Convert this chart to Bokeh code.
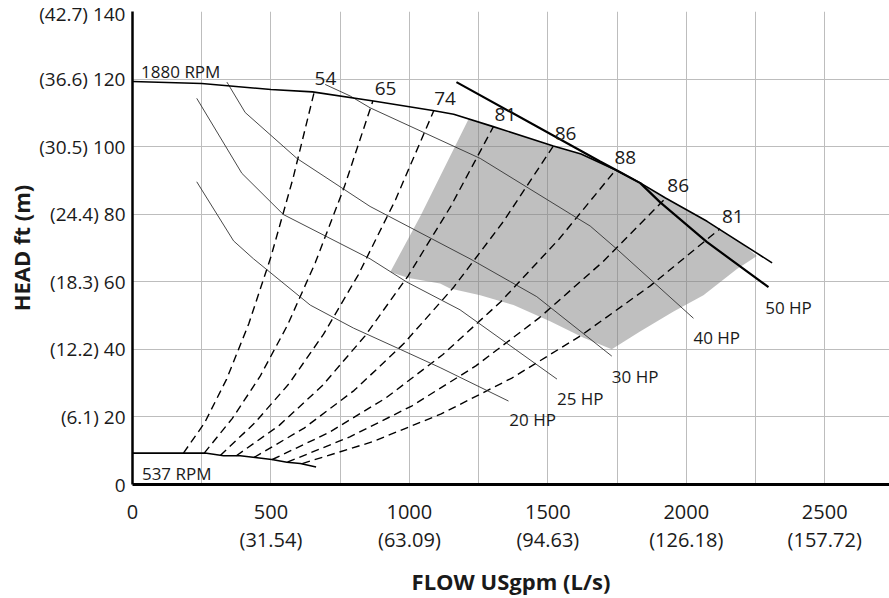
from bokeh.plotting import figure
from bokeh.models import FixedTicker, LinearAxis
from bokeh.embed import file_html
from bokeh.resources import INLINE
from bokeh.core.properties import value

# ---------------- data ----------------
x_ticks = [0, 500, 1000, 1500, 2000, 2500]
x_tick_labels = ["0", "500", "1000", "1500", "2000", "2500"]
x_tick_labels_ls = ["", "(31.54)", "(63.09)", "(94.63)", "(126.18)", "(157.72)"]
y_ticks = [0, 20, 40, 60, 80, 100, 120, 140]
y_tick_labels = ["0", "(6.1) 20", "(12.2) 40", "(18.3) 60", "(24.4) 80",
                 "(30.5) 100", "(36.6) 120", "(42.7) 140"]
x_grid = [250, 500, 750, 1000, 1250, 1500, 1750, 2000, 2250, 2500]
y_grid = [20, 40, 60, 80, 100, 120]

# pump curve at max and min speed
flow_1880 = [0, 250, 500, 650, 870, 1090, 1160, 1300, 1520, 1620, 1745, 1835, 1925, 2075, 2310]
head_1880 = [119.3, 118.7, 116.9, 116.2, 113.5, 110.6, 109.6, 106.0, 100.2, 97.8, 93.1, 89.2, 84.8, 77.9, 65.6]
flow_537 = [0, 262, 329, 389, 443, 503, 558, 606, 663]
head_537 = [9.3, 9.3, 8.5, 8.5, 8.0, 7.4, 6.6, 6.2, 5.2]

# horsepower lines
hp20_flow = [232, 365, 437, 642, 798, 967, 1111, 1358]
hp20_head = [89.6, 72.1, 66.8, 53.1, 46.3, 40.0, 34.6, 24.7]
hp25_flow = [232, 395, 545, 858, 991, 1183, 1533]
hp25_head = [114.3, 92.1, 79.9, 66.8, 59.9, 51.7, 31.2]
hp30_flow = [341, 407, 594, 858, 1219, 1460, 1731]
hp30_head = [119.1, 110.1, 96.5, 82.3, 66.8, 55.6, 38.0]
hp40_flow = [696, 786, 858, 1256, 1605, 1653, 1749, 2026]
hp40_head = [118.4, 115.0, 111.5, 96.5, 78.9, 76.5, 69.7, 49.2]
hp50_flow = [1170, 1689, 1760, 1834, 1906, 2074, 2297]
hp50_head = [119.1, 95.6, 92.5, 89.2, 83.5, 71.8, 58.4]

hp_labels = ["20 HP", "25 HP", "30 HP", "40 HP", "50 HP"]
hp_label_x = [1361, 1533, 1731, 2026, 2285]
hp_label_y = [19.3, 25.4, 32.0, 43.4, 52.4]

# efficiency (affinity) lines
e54_flow = [184, 260, 340, 420, 500, 580, 657]
e54_head = [9.3, 18.2, 31.2, 47.6, 67.4, 90.7, 116.4]
e65_flow = [259, 360, 460, 560, 660, 765, 868]
e65_head = [9.3, 19.5, 31.9, 47.2, 65.6, 88.1, 113.5]
e74_flow = [317, 440, 565, 690, 815, 950, 1088]
e74_head = [8.6, 18.1, 29.8, 44.5, 62.0, 84.3, 110.6]
e81_flow = [375, 530, 685, 840, 995, 1150, 1304]
e81_head = [8.5, 17.5, 29.2, 44.0, 61.7, 82.4, 106.0]
e86_flow = [439, 620, 800, 980, 1160, 1340, 1520]
e86_head = [8.0, 16.7, 27.8, 41.7, 58.4, 77.9, 100.2]
e88_flow = [505, 710, 915, 1120, 1330, 1540, 1745]
e88_head = [7.4, 15.4, 25.6, 38.4, 54.1, 72.6, 93.1]
e86b_flow = [559, 785, 1010, 1240, 1470, 1700, 1924]
e86b_head = [6.6, 14.1, 23.3, 35.1, 49.4, 66.0, 84.6]
e81b_flow = [613, 865, 1115, 1370, 1620, 1870, 2122]
e81b_head = [6.2, 12.6, 20.9, 31.5, 44.1, 58.8, 75.7]

eff_labels = ["54", "65", "74", "81", "86", "88", "86", "81"]
eff_label_x = [697, 914, 1129, 1347, 1564, 1780, 1971, 2168]
eff_label_y = [120.1, 117.2, 114.3, 109.4, 103.8, 96.8, 88.4, 79.4]

# preferred operating region (shaded)
region_flow = [1213, 1300, 1520, 1620, 1745, 1835, 1925, 2075, 2200, 2255,
               2183, 2062, 1954, 1833, 1731, 1629, 1508, 1376, 1256, 1147,
               1111, 997, 931, 1040]
region_head = [108.0, 106.0, 100.2, 97.8, 93.1, 89.2, 84.8, 77.9, 71.4, 67.6,
               63.8, 56.0, 51.2, 45.3, 40.0, 43.4, 48.3, 53.1, 56.0, 58.0,
               59.5, 61.1, 62.9, 79.5]

# ---------------- figure ----------------
FONT = "Open Sans"
TXT = "#1a1a1a"

p = figure(width=889, height=598, x_range=(0, 2734), y_range=(0, 140),
           output_backend="svg", toolbar_location=None,
           min_border_left=132, min_border_right=0,
           min_border_top=11, min_border_bottom=108)
p.outline_line_color = None
p.background_fill_color = "white"
p.border_fill_color = "white"

p.xgrid.ticker = FixedTicker(ticks=x_grid)
p.ygrid.ticker = FixedTicker(ticks=y_grid)
for g in (p.xgrid, p.ygrid):
    g.grid_line_color = "#bdbdbd"
    g.grid_line_width = 1

xa = p.xaxis[0]
xa.ticker = FixedTicker(ticks=x_ticks)
xa.major_label_overrides = {t: s for t, s in zip(x_ticks, x_tick_labels)}
ya = p.yaxis[0]
ya.ticker = FixedTicker(ticks=y_ticks)
ya.major_label_overrides = {t: s for t, s in zip(y_ticks, y_tick_labels)}

xa2 = LinearAxis(ticker=FixedTicker(ticks=x_ticks),
                 major_label_overrides={t: s for t, s in zip(x_ticks, x_tick_labels_ls)})
p.add_layout(xa2, "below")

for ax in (xa, ya, xa2):
    ax.major_tick_line_color = None
    ax.minor_tick_line_color = None
    ax.major_tick_out = 0
    ax.major_tick_in = 0
    ax.major_label_text_font = FONT
    ax.major_label_text_color = TXT
    ax.axis_label_text_font = FONT
    ax.axis_label_text_font_style = "bold"
    ax.axis_label_text_color = TXT
    ax.axis_label_text_font_size = "22px"
xa.major_label_text_font_size = "20px"
xa2.major_label_text_font_size = "20px"
ya.major_label_text_font_size = "19px"
xa.axis_line_width = 3
xa.axis_line_color = "black"
ya.axis_line_width = 2.5
ya.axis_line_color = "black"
xa2.axis_line_color = None
xa.major_label_standoff = 20
xa2.major_label_standoff = 4
ya.major_label_standoff = 7

xa2.axis_label = "FLOW USgpm (L/s)"
xa2.axis_label_standoff = 10
ya.axis_label = "HEAD ft (m)"
ya.axis_label_standoff = 0

# shaded region
p.patch(region_flow, region_head, fill_color="#808080", fill_alpha=0.5, line_color=None)

# efficiency dashed lines
for fx, hy in [(e54_flow, e54_head), (e65_flow, e65_head), (e74_flow, e74_head),
               (e81_flow, e81_head), (e86_flow, e86_head), (e88_flow, e88_head),
               (e86b_flow, e86b_head), (e81b_flow, e81b_head)]:
    p.line(fx, hy, line_color="black", line_width=1.4, line_dash="8 5")

# horsepower lines
for fx, hy in [(hp20_flow, hp20_head), (hp25_flow, hp25_head),
               (hp30_flow, hp30_head), (hp40_flow, hp40_head)]:
    p.line(fx, hy, line_color="#333333", line_width=0.9)
p.line(hp50_flow, hp50_head, line_color="black", line_width=2.2)

# speed curves
p.line(flow_1880, head_1880, line_color="black", line_width=1.6)
p.line(flow_537, head_537, line_color="black", line_width=1.6)

# text
p.text(x=eff_label_x, y=eff_label_y, text=eff_labels, text_align="center",
       text_baseline="middle", text_font=value(FONT), text_font_size="19px",
       text_color=TXT)
p.text(x=hp_label_x, y=hp_label_y, text=hp_labels, text_align="left",
       text_baseline="middle", text_font=value(FONT), text_font_size="17px",
       text_color=TXT)
p.text(x=[31, 34], y=[122.3, 3.3], text=["1880 RPM", "537 RPM"], text_align="left",
       text_baseline="middle", text_font=value(FONT), text_font_size="17px",
       text_color=TXT)

open("out.html", "w").write(file_html(p, INLINE))
